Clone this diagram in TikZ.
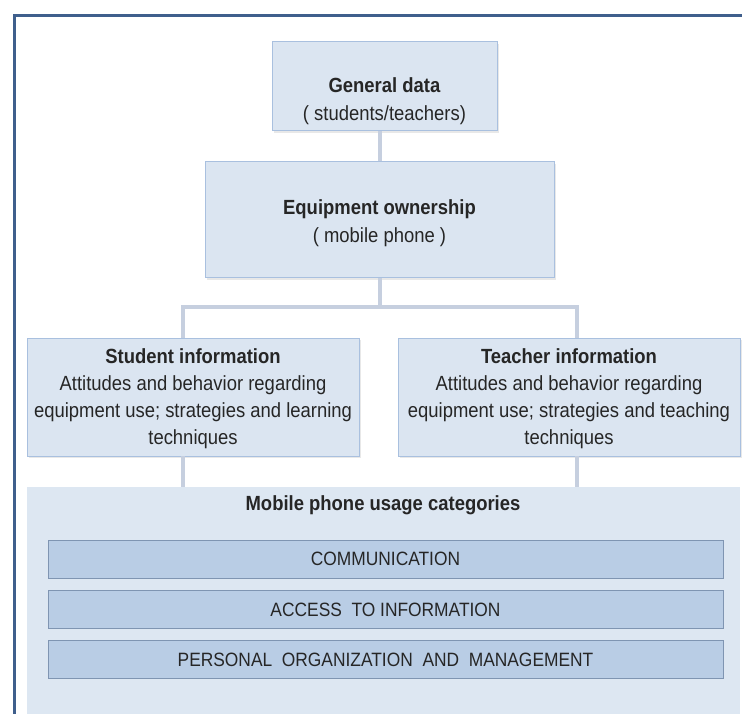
\documentclass[tikz,border=0pt]{standalone}
\usepackage{fontspec}
\setmainfont{Liberation Sans}[FakeStretch=0.9]
\usetikzlibrary{shadows}
\definecolor{frameblue}{HTML}{3F5F8C}
\definecolor{boxfill}{HTML}{DBE5F1}
\definecolor{boxline}{HTML}{A9C0DF}
\definecolor{panelfill}{HTML}{DDE7F2}
\definecolor{barfill}{HTML}{B9CDE5}
\definecolor{barline}{HTML}{7F95B2}
\definecolor{conn}{HTML}{C6CFDF}
\definecolor{txt}{HTML}{262626}
\tikzset{
  infobox/.style={draw=boxline, fill=boxfill, line width=1pt, inner sep=0pt,
    drop shadow={opacity=0.18, shadow xshift=2pt, shadow yshift=-2pt}},
  infotext/.style={inner sep=0pt, align=center, text=txt, font=\fontsize{20.5}{28}\selectfont},
  panelbox/.style={fill=panelfill, draw=none, inner sep=0pt},
  barbox/.style={draw=barline, fill=barfill, line width=0.8pt, inner sep=0pt,
    minimum width=675pt, minimum height=38pt, text=txt, font=\fontsize{19.3}{24}\selectfont},
  connector/.style={draw=conn, line width=4pt},
}
\begin{document}
\begin{tikzpicture}[x=1pt, y=-1pt]
\useasboundingbox (0,0) rectangle (742,714);
\clip (0,0) rectangle (742,714);
\fill[white] (0,0) rectangle (742,714);
% frame
\draw[frameblue, line width=3pt] (14,730) -- (14,16) -- (760,16);

% bottom panel
\node[panelbox, minimum width=713pt, minimum height=240pt, anchor=north west] (panel) at (27,487) {};
\node[text=txt, font=\bfseries\fontsize{20.5}{24}\selectfont] (ptitle) at (383,505) {Mobile phone usage categories};
\node[barbox] (comm) at (385.5,559) {COMMUNICATION};
\node[barbox] (access) at (385.5,609.5) {ACCESS\ \ TO INFORMATION};
\node[barbox] (personal) at (385.5,659.5) {PERSONAL\ \ ORGANIZATION\ \ AND\ \ MANAGEMENT};

% boxes
\node[infobox, minimum width=225pt, minimum height=89pt] (general) at (384.5,86.5) {};
\node[infotext] (gtext) at (384.5,101) {\textbf{General data}\\( students/teachers)};
\node[infobox, minimum width=349pt, minimum height=116pt] (equip) at (379.5,220) {};
\node[infotext] (etext) at (379.5,223.5) {\textbf{Equipment ownership}\\( mobile phone )};
\node[infobox, minimum width=332pt, minimum height=118pt] (student) at (193,397) {};
\node[infotext, font=\fontsize{20.5}{26.8}\selectfont] (stext) at (193,398.5)
  {\textbf{Student information}\\Attitudes and behavior regarding\\equipment use; strategies and learning\\techniques};
\node[infobox, minimum width=342pt, minimum height=118pt] (teacher) at (569,397) {};
\node[infotext, font=\fontsize{20.5}{26.8}\selectfont] (ttext) at (569,398.5)
  {\textbf{Teacher information}\\Attitudes and behavior regarding\\equipment use; strategies and teaching\\techniques};

% connectors
\coordinate (junc) at (380,307);
\coordinate (sTop) at (183,338);
\coordinate (tTop) at (577,338);
\coordinate (sBot) at (183,456);
\coordinate (tBot) at (577,456);
\draw[connector] (equip.north -| junc) -- (general.south -| junc);
\draw[connector] (equip.south -| junc) -- (junc);
\draw[connector] (sTop) |- (junc) -| (tTop);
\draw[connector] (sBot) -- (sBot |- panel.north);
\draw[connector] (tBot) -- (tBot |- panel.north);
\end{tikzpicture}
\end{document}
